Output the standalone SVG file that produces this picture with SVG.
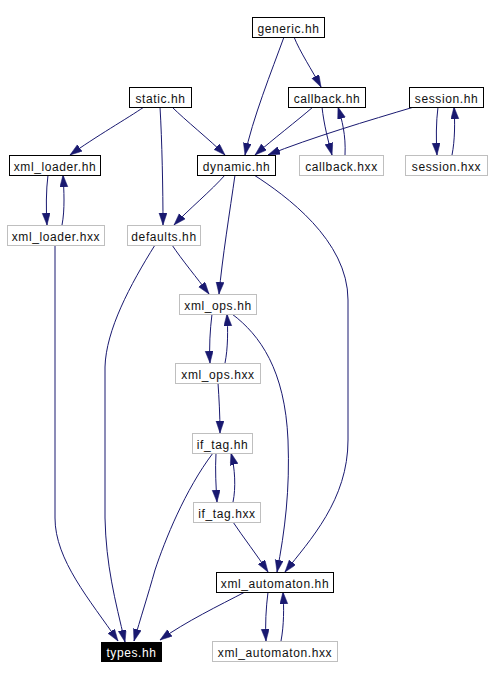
<svg xmlns="http://www.w3.org/2000/svg" width="490" height="678" viewBox="0 0 490 678">
<style>
  .n rect { fill: #ffffff; stroke: #000000; stroke-width: 1; }
  .g rect { fill: #ffffff; stroke: #bfbfbf; stroke-width: 1; }
  .b rect { fill: #000000; stroke: #000000; stroke-width: 1; }
  text { font-family: "Liberation Sans", Arial, sans-serif; font-size: 12px; letter-spacing: 0.6px; text-anchor: middle; fill: #111111; }
  .b text { fill: #ffffff; }
  #edges path { fill: none; stroke: #191970; stroke-width: 1; marker-end: url(#arr); }
</style>
<defs>
  <marker id="arr" markerUnits="userSpaceOnUse" markerWidth="13" markerHeight="9" refX="12" refY="4" orient="auto">
    <path d="M0,0 L12,4 L0,8 z" fill="#191970" stroke="#191970" stroke-width="0.5"/>
  </marker>
</defs>
<rect x="0" y="0" width="490" height="678" fill="#ffffff"/>
<g id="edges">
  <path d="M284,37 C272,70 252,120 245,155"/>
  <path d="M294,37 C300,52 312,70 321,87"/>
  <path d="M144,107 C128,118 95,137 70,155"/>
  <path d="M160,107 C162,140 163,190 163,225"/>
  <path d="M172,107 C185,120 210,140 225,155"/>
  <path d="M313,107 C298,120 272,140 255,155"/>
  <path d="M322,107 C324,125 328,140 332,155"/>
  <path d="M345,155 C346,135 342,120 338,107"/>
  <path d="M414,107 C370,120 310,138 268,155"/>
  <path d="M438,107 C436,122 436,140 437,155"/>
  <path d="M452,155 C455,140 455,122 454,107"/>
  <path d="M48,175 C46,190 46,210 47,225"/>
  <path d="M62,225 C65,210 64,190 63,175"/>
  <path d="M225,175 C212,190 188,210 174,225"/>
  <path d="M235,175 C230,210 222,260 219,294"/>
  <path d="M254,175 C285,195 348,240 348,300 L348,440 C348,500 310,540 285,572"/>
  <path d="M172,245 C182,260 197,278 209,294"/>
  <path d="M155,245 C130,285 106,330 105,367 L105,518 C106,565 115,600 125,642"/>
  <path d="M55,245 L55,518 C55,560 90,600 118,641"/>
  <path d="M212,314 C210,330 209,348 210,363"/>
  <path d="M225,363 C228,348 228,330 227,314"/>
  <path d="M232,314 C260,335 285,370 288,440 C290,490 285,530 277,572"/>
  <path d="M218,383 C219,398 220,415 220,433"/>
  <path d="M216,453 C215,470 216,487 217,502"/>
  <path d="M233,502 C236,488 235,468 231,453"/>
  <path d="M213,453 C185,490 165,540 155,570 C148,595 140,620 134,641"/>
  <path d="M233,522 C243,537 257,555 268,572"/>
  <path d="M245,592 C220,605 185,622 160,640"/>
  <path d="M268,592 C266,608 265,625 266,641"/>
  <path d="M281,641 C284,625 284,608 283,592"/>
</g>
<g id="generic_hh" class="n"><rect x="252.5" y="17.5" width="72" height="20"/><text x="288.5" y="33">generic.hh</text></g>
<g id="static_hh" class="n"><rect x="129.5" y="87.5" width="62" height="20"/><text x="160.5" y="103">static.hh</text></g>
<g id="callback_hh" class="n"><rect x="288.5" y="87.5" width="77" height="20"/><text x="327" y="103">callback.hh</text></g>
<g id="session_hh" class="n"><rect x="409.5" y="87.5" width="74" height="20"/><text x="446.5" y="103">session.hh</text></g>
<g id="xml_loader_hh" class="n"><rect x="9.5" y="155.5" width="91" height="20"/><text x="55" y="171">xml_loader.hh</text></g>
<g id="dynamic_hh" class="n"><rect x="197.5" y="155.5" width="78" height="20"/><text x="236.5" y="171">dynamic.hh</text></g>
<g id="callback_hxx" class="g"><rect x="299.5" y="155.5" width="84" height="20"/><text x="341.5" y="171">callback.hxx</text></g>
<g id="session_hxx" class="g"><rect x="405.5" y="155.5" width="82" height="20"/><text x="446.5" y="171">session.hxx</text></g>
<g id="xml_loader_hxx" class="g"><rect x="7.5" y="225.5" width="97" height="20"/><text x="56" y="241">xml_loader.hxx</text></g>
<g id="defaults_hh" class="g"><rect x="127.5" y="225.5" width="73" height="20"/><text x="164" y="241">defaults.hh</text></g>
<g id="xml_ops_hh" class="g"><rect x="179.5" y="294.5" width="77" height="20"/><text x="218" y="310">xml_ops.hh</text></g>
<g id="xml_ops_hxx" class="g"><rect x="175.5" y="363.5" width="85" height="20"/><text x="218" y="379">xml_ops.hxx</text></g>
<g id="if_tag_hh" class="g"><rect x="192.5" y="433.5" width="60" height="20"/><text x="222.5" y="449">if_tag.hh</text></g>
<g id="if_tag_hxx" class="g"><rect x="193.5" y="502.5" width="67" height="20"/><text x="227" y="518">if_tag.hxx</text></g>
<g id="xml_automaton_hh" class="n"><rect x="216.5" y="572.5" width="117" height="20"/><text x="275" y="588">xml_automaton.hh</text></g>
<g id="types_hh" class="b"><rect x="101.5" y="642.5" width="60" height="19"/><text x="131.5" y="657">types.hh</text></g>
<g id="xml_automaton_hxx" class="g"><rect x="212.5" y="641.5" width="125" height="20"/><text x="275" y="657">xml_automaton.hxx</text></g>
</svg>
